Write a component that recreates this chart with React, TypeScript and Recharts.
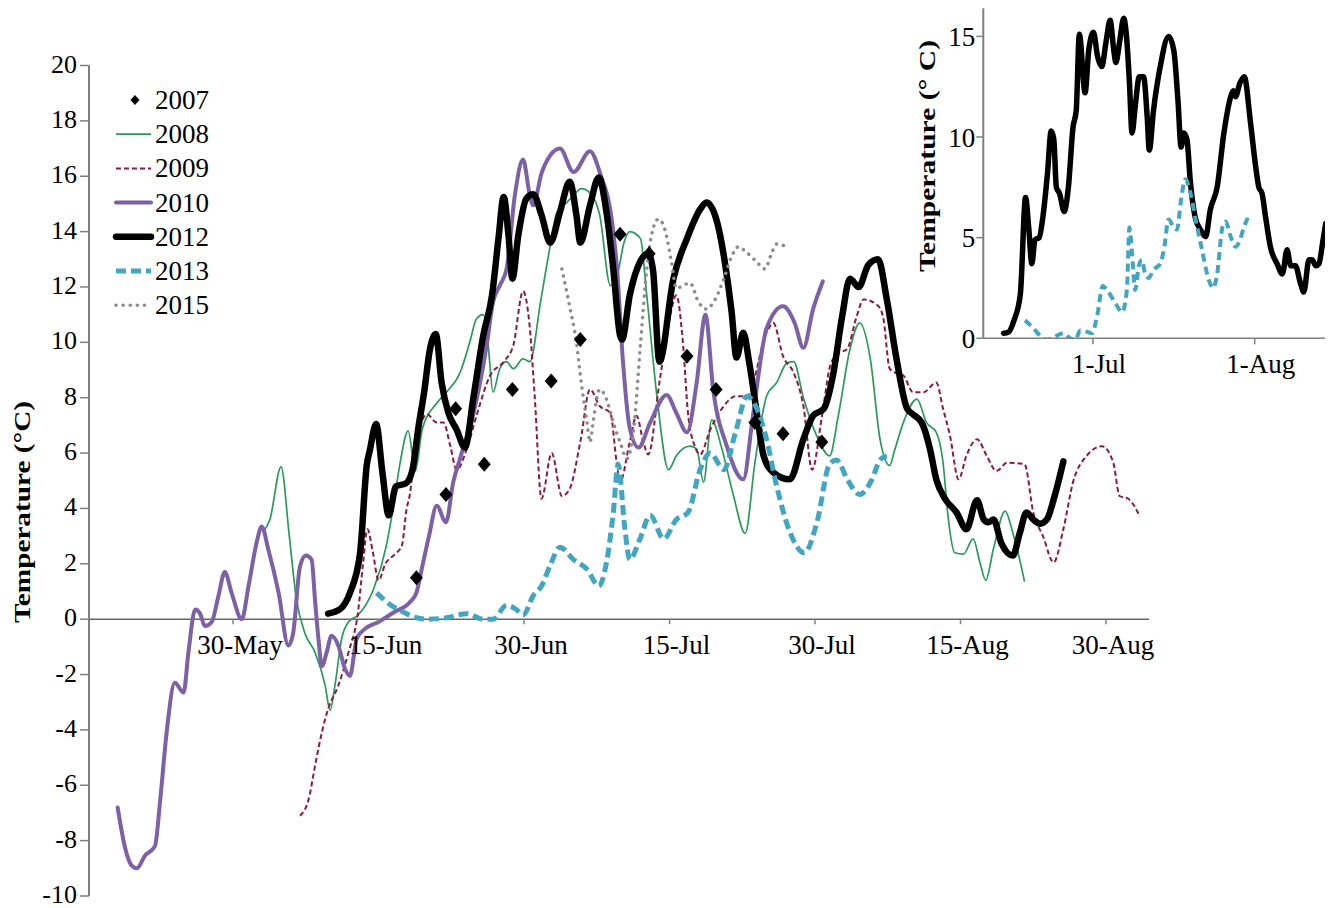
import React from "react";
import {
  ComposedChart,
  LineChart,
  Line,
  Scatter,
  XAxis,
  YAxis,
  ReferenceLine,
} from "recharts";

const FONT = '"Liberation Serif", "Times New Roman", serif';
const AXIS = "#7f7f7f";

// main chart: x = days after 30 May (ticks every 15 days), y = temperature
const mainTicks = [0, 15, 30, 45, 60, 75, 90];
const mainTickLabels = ["30-May", "15-Jun", "30-Jun", "15-Jul", "30-Jul", "15-Aug", "30-Aug"];
const tempTicks = [-10, -8, -6, -4, -2, 0, 2, 4, 6, 8, 10, 12, 14, 16, 18, 20];

const t2007: [number, number][] = [
  [18.9, 1.5], [21.95, 4.5], [22.95, 7.6], [25.9, 5.6], [28.8, 8.3], [32.8, 8.6], [35.8, 10.1],
  [39.9, 13.9], [42.9, 13.2], [46.8, 9.5], [49.8, 8.3], [53.8, 7.1], [56.7, 6.7], [60.7, 6.4],
];

const t2008: [number, number][] = [
  [3.1, 3.15], [3.8, 3.6], [4.95, 5.5], [5.8, 3.0], [6.5, 0.8], [7.4, -0.5], [8.45, -1.2], [9.5, -2.4],
  [10.0, -3.3], [10.5, -2.4], [11.2, -0.7], [11.9, -0.1], [12.9, 0.15], [14.5, 1.1], [15.8, 2.65],
  [16.5, 4.0], [17.2, 5.6], [18.05, 6.8], [18.8, 5.35], [19.5, 6.85], [21.0, 7.8], [22.0, 8.2],
  [23.4, 8.9], [24.4, 10.0], [25.1, 10.85], [25.8, 11.0], [26.3, 9.9], [26.8, 8.2], [27.5, 9.05],
  [28.2, 9.3], [28.9, 9.05], [29.9, 9.4], [30.6, 9.3], [31.7, 11.45], [32.5, 13.1], [33.4, 14.7],
  [34.4, 15.05], [35.1, 15.3], [35.9, 15.55], [36.8, 15.4], [37.8, 14.6], [38.9, 12.05], [39.6, 12.4],
  [40.3, 13.6], [40.9, 14.0], [42.0, 13.75], [42.65, 11.7], [43.7, 8.05], [44.9, 5.4], [45.7, 5.9],
  [47.1, 6.25], [47.8, 6.15], [48.5, 4.95], [49.35, 7.2], [50.4, 6.15], [51.6, 4.45], [52.8, 3.1],
  [53.8, 5.65], [55.0, 8.05], [56.05, 8.55], [57.1, 9.25], [57.8, 9.3], [58.8, 8.0], [60.2, 6.6],
  [61.5, 5.9], [62.4, 7.35], [63.6, 9.75], [64.6, 10.7], [65.7, 9.4], [66.7, 6.5], [67.7, 5.55],
  [68.2, 6.1], [69.1, 7.1], [70.5, 7.95], [71.5, 7.1], [72.5, 6.75], [73.2, 5.65], [73.7, 3.75],
  [74.4, 2.4], [75.3, 2.35], [76.3, 2.9], [77.0, 2.05], [77.6, 1.4], [78.4, 2.55], [79.6, 3.9],
  [80.4, 3.1], [81.1, 2.15], [81.6, 1.35],
];

const t2009: [number, number][] = [
  [6.9, -7.1], [7.8, -6.5], [8.45, -5.3], [9.15, -4.1], [9.8, -3.25], [10.85, -2.4], [11.9, -1.2],
  [12.9, 0.3], [13.4, 2.0], [13.85, 3.25], [14.4, 2.45], [15.0, 1.4], [15.7, 2.0], [16.7, 2.35],
  [17.4, 2.65], [17.9, 4.0], [18.2, 4.45], [18.8, 6.2], [20.0, 7.4], [21.0, 7.1], [21.7, 7.1],
  [22.4, 6.25], [23.05, 5.4], [24.1, 6.15], [25.1, 7.35], [26.5, 8.8], [27.9, 9.3], [28.9, 9.9],
  [29.9, 11.85], [30.6, 10.5], [31.1, 8.05], [31.8, 4.35], [32.85, 6.0], [33.9, 4.45], [34.7, 4.7],
  [35.8, 6.4], [36.8, 8.3], [37.8, 7.7], [38.9, 7.45], [39.55, 5.65], [39.9, 4.95], [40.9, 6.4],
  [41.6, 7.35], [42.3, 6.4], [42.8, 5.95], [44.0, 8.65], [45.05, 10.95], [45.7, 11.7], [46.4, 9.9],
  [46.9, 7.45], [47.6, 6.25], [48.15, 5.95], [49.2, 6.85], [50.6, 7.7], [51.8, 8.05], [53.0, 8.05],
  [55.0, 10.35], [55.7, 10.7], [56.7, 9.5], [57.8, 8.9], [58.8, 7.7], [59.7, 5.4], [60.7, 7.3],
  [61.6, 9.2], [62.4, 9.6], [63.3, 9.75], [64.3, 10.95], [65.0, 11.55], [66.4, 11.35], [67.0, 10.95],
  [67.7, 9.05], [68.3, 8.9], [69.1, 8.8], [70.1, 8.2], [71.2, 8.2], [72.5, 8.55], [73.2, 7.6],
  [73.9, 6.65], [74.8, 5.05], [75.6, 5.9], [76.7, 6.5], [77.7, 5.9], [78.7, 5.35], [79.8, 5.65],
  [81.6, 5.6], [82.5, 3.85], [83.5, 3.0], [84.6, 2.05], [85.6, 3.25], [86.6, 4.95], [88.0, 5.9],
  [89.6, 6.25], [90.75, 5.65], [91.4, 4.45], [92.3, 4.35], [93.5, 3.7],
];

const t2010: [number, number][] = [
  [-11.9, -6.8], [-11.1, -8.3], [-10.45, -8.9], [-9.9, -9.0], [-9.1, -8.55], [-8.05, -8.2], [-7.5, -6.5],
  [-6.85, -4.1], [-6.0, -2.3], [-5.1, -2.65], [-4.6, -1.2], [-3.9, 0.35], [-3.4, 0.2], [-2.9, -0.25],
  [-2.2, -0.1], [-1.5, 0.85], [-0.85, 1.7], [-0.15, 0.95], [0.9, 0.0], [1.6, 1.2], [2.45, 2.8],
  [2.95, 3.35], [3.65, 2.5], [4.7, 0.95], [5.7, -0.95], [6.2, -0.5], [6.9, 1.9], [7.5, 2.3], [8.1, 2.15],
  [8.45, 0.7], [8.8, -0.7], [9.15, -1.7], [9.65, -1.2], [10.15, -0.6], [10.85, -0.95], [11.55, -1.8],
  [12.05, -2.05], [12.75, -0.7], [13.6, -0.35], [15.0, -0.1], [16.6, 0.25], [18.2, 0.6], [18.9, 0.95],
  [19.6, 2.05], [20.2, 3.0], [21.0, 4.1], [21.95, 3.5], [22.7, 4.95], [23.4, 5.8], [24.8, 7.45],
  [26.15, 9.9], [26.8, 11.45], [27.5, 12.05], [28.2, 12.65], [29.05, 15.3], [29.9, 16.6], [30.6, 15.3],
  [30.95, 14.95], [31.8, 16.1], [32.7, 16.75], [33.7, 17.0], [35.1, 16.15], [36.8, 16.9], [37.8, 16.15],
  [39.2, 14.0], [39.6, 12.6], [40.2, 9.3], [40.9, 6.9], [41.8, 6.2], [43.0, 7.1], [44.7, 8.1],
  [45.7, 7.45], [46.8, 6.75], [47.8, 8.55], [48.7, 11.0], [49.5, 8.3], [50.9, 6.25], [52.6, 5.05],
  [53.6, 7.35], [55.0, 10.5], [56.7, 11.3], [57.9, 10.7], [58.8, 9.8], [59.8, 11.2], [60.8, 12.2],
];

const t2012: [number, number][] = [
  [9.8, 0.2], [11.0, 0.35], [12.05, 0.95], [13.1, 2.4], [13.8, 5.6], [14.1, 6.1], [14.75, 7.05],
  [15.4, 5.3], [16.05, 3.75], [16.8, 4.8], [17.8, 4.9], [18.5, 5.4], [19.1, 6.9], [19.7, 8.2],
  [20.3, 9.75], [20.9, 10.3], [21.5, 8.55], [22.2, 7.45], [23.05, 6.85], [23.9, 6.2], [24.8, 8.05],
  [25.8, 10.25], [26.7, 11.7], [27.35, 13.7], [27.9, 15.25], [28.4, 13.85], [28.8, 12.3], [29.4, 13.85],
  [30.25, 15.2], [30.95, 15.35], [31.8, 14.6], [32.7, 13.6], [33.7, 14.7], [34.7, 15.8], [35.4, 14.6],
  [35.8, 13.6], [36.8, 14.95], [37.7, 15.95], [38.5, 14.7], [39.2, 12.65], [39.9, 10.25], [40.1, 10.1],
  [40.9, 11.7], [41.95, 12.9], [42.8, 13.2], [43.3, 12.6], [43.95, 9.3], [45.4, 12.3], [46.8, 13.75],
  [48.15, 14.8], [48.8, 15.05], [49.9, 14.35], [50.7, 12.9], [51.4, 11.1], [51.9, 9.45], [52.6, 10.35],
  [53.2, 9.3], [54.0, 7.45], [54.7, 5.9], [55.7, 5.3], [57.4, 5.05], [58.8, 6.5], [59.8, 7.35],
  [60.9, 7.6], [61.9, 8.9], [62.8, 10.95], [63.6, 12.3], [64.5, 12.0], [65.5, 12.8], [66.5, 13.0],
  [67.4, 11.55], [68.4, 9.4], [69.5, 7.6], [70.1, 7.4], [71.0, 7.1], [71.85, 6.15], [72.5, 5.05],
  [73.4, 4.35], [74.6, 3.85], [75.6, 3.25], [76.7, 4.3], [77.4, 3.6], [77.9, 3.5], [78.4, 3.6],
  [79.2, 2.75], [80.4, 2.3], [81.1, 3.1], [81.8, 3.85], [82.5, 3.6], [83.2, 3.45], [83.9, 3.6],
  [84.7, 4.45], [85.6, 5.7],
];

const t2013: [number, number][] = [
  [14.8, 0.95], [16.3, 0.5], [17.6, 0.25], [18.9, 0.05], [20.0, 0.0], [22.0, 0.05], [24.1, 0.2],
  [25.8, 0.0], [26.8, 0.0], [28.2, 0.5], [29.2, 0.35], [29.9, 0.15], [30.95, 0.85], [31.8, 1.2],
  [32.7, 1.95], [33.7, 2.6], [35.1, 2.15], [36.5, 1.8], [37.7, 1.2], [38.5, 2.05], [39.2, 3.85],
  [39.7, 5.6], [40.4, 3.25], [40.9, 2.15], [41.95, 2.9], [43.0, 3.75], [44.4, 2.9], [45.7, 3.6],
  [46.9, 3.85], [48.15, 5.4], [49.2, 6.0], [50.6, 5.4], [51.8, 6.75], [53.0, 8.05], [54.0, 7.6],
  [55.0, 6.5], [56.05, 4.8], [57.4, 3.15], [58.9, 2.4], [60.2, 3.5], [61.5, 5.6], [62.2, 5.75],
  [63.4, 5.0], [64.6, 4.5], [65.8, 5.0], [66.7, 5.75], [67.4, 5.9],
];

const t2015: [number, number][] = [
  [33.9, 12.65], [34.7, 11.3], [35.4, 10.0], [35.9, 8.55], [36.5, 7.1], [36.8, 6.4], [37.15, 7.2],
  [37.8, 8.3], [38.5, 7.95], [39.2, 7.1], [39.9, 6.4], [40.6, 5.8], [41.3, 6.85], [42.0, 9.9],
  [42.65, 12.65], [43.3, 14.1], [43.85, 14.45], [44.5, 14.1], [45.2, 12.9], [45.7, 11.95], [46.4, 12.05],
  [47.1, 12.15], [48.0, 11.45], [48.8, 11.2], [49.7, 11.55], [50.6, 12.3], [51.4, 13.1], [52.1, 13.45],
  [52.95, 13.25], [54.0, 12.9], [54.85, 12.65], [55.4, 13.1], [56.05, 13.55], [56.7, 13.5], [57.4, 13.45],
];

// inset: x = days relative to 1 July
const insetTicks = [0, 31];
const insetTickLabels = ["1-Jul", "1-Aug"];
const insetTempTicks = [0, 5, 10, 15];

const inset2012: [number, number][] = [
  [-17.1, 0.25], [-16.2, 0.3], [-15.1, 0.9], [-13.9, 2.2], [-12.9, 7.0], [-12.3, 5.5], [-11.7, 3.7],
  [-11.1, 4.9], [-10.3, 5.0], [-9.5, 6.2], [-8.7, 8.2], [-8.0, 10.3], [-7.5, 9.9], [-7.0, 7.5],
  [-6.4, 7.2], [-5.5, 6.3], [-4.7, 7.5], [-3.8, 10.5], [-3.2, 11.3], [-2.6, 15.1], [-1.5, 12.2],
  [-0.8, 14.3], [0.1, 15.2], [0.9, 14.0], [1.7, 13.5], [2.5, 14.7], [3.3, 15.8], [4.0, 14.3],
  [4.4, 13.7], [5.1, 14.7], [5.9, 15.9], [6.5, 14.8], [7.0, 12.7], [7.5, 10.2], [8.1, 11.5],
  [8.9, 13.0], [9.7, 13.0], [10.4, 11.0], [10.8, 9.35], [11.6, 11.3], [12.9, 13.5], [14.5, 15.0],
  [15.5, 14.3], [16.3, 11.8], [16.9, 9.5], [17.4, 10.2], [18.0, 9.9], [18.7, 7.7], [19.6, 6.0],
  [20.6, 5.4], [21.6, 5.05], [22.5, 6.4], [23.8, 7.5], [25.1, 10.2], [26.4, 12.0], [26.9, 12.3],
  [27.3, 12.0], [28.2, 12.7], [29.0, 13.0], [30.2, 10.7], [31.2, 8.5], [31.8, 7.5], [32.4, 7.2],
  [33.1, 6.0], [34.0, 4.55], [35.3, 3.7], [36.3, 3.2], [37.2, 4.4], [37.9, 3.6], [38.8, 3.6],
  [39.8, 2.7], [40.4, 2.3], [41.4, 3.9], [42.0, 3.9], [42.7, 3.6], [43.3, 3.7], [44.1, 4.9], [44.6, 5.7],
];

const inset2013: [number, number][] = [
  [-13.0, 0.9], [-11.4, 0.5], [-9.8, 0.05], [-8.8, -0.08], [-7.5, 0.05], [-5.6, 0.25], [-4.4, 0.0],
  [-3.4, -0.08], [-2.4, 0.4], [-1.2, 0.33], [-0.2, 0.25], [0.8, 1.1], [1.9, 2.6], [2.7, 2.4],
  [4.3, 1.75], [5.6, 1.3], [6.5, 2.4], [7.0, 5.5], [7.5, 4.2], [8.1, 2.4], [8.8, 3.6], [9.4, 3.9],
  [10.0, 3.2], [10.7, 3.0], [11.6, 3.4], [12.9, 3.7], [13.6, 4.4], [14.5, 5.9], [15.5, 5.5],
  [16.1, 5.4], [16.9, 6.9], [17.7, 7.9], [18.7, 7.2], [19.6, 6.0], [20.9, 4.4], [22.2, 2.9],
  [23.0, 2.5], [23.8, 3.2], [24.8, 5.5], [25.4, 5.8], [26.4, 5.05], [27.3, 4.55], [28.2, 4.9],
  [28.9, 5.5], [29.7, 6.0],
];

const pts = (a: [number, number][]) => a.map(([day, temp]) => ({ day, temp }));

const lineSeries = [
  { name: "2008", data: pts(t2008), color: "#2a9a5a", width: 1.7, dash: undefined, cap: "butt" },
  { name: "2009", data: pts(t2009), color: "#8b1a3d", width: 2, dash: "5 3", cap: "butt" },
  { name: "2010", data: pts(t2010), color: "#7d61a6", width: 4, dash: undefined, cap: "round" },
  { name: "2012", data: pts(t2012), color: "#000000", width: 6.5, dash: undefined, cap: "round" },
  { name: "2013", data: pts(t2013), color: "#42a6c1", width: 5, dash: "10 5", cap: "butt" },
  { name: "2015", data: pts(t2015), color: "#8c8c8c", width: 3.5, dash: "0.1 7", cap: "round" },
];

const MAIN_W = 1325;
const MAIN_H = 900;
const MAIN_MARGIN = { top: 57.5, right: 184, bottom: 11, left: 0 };
const MAIN_PLOT_H = MAIN_H - MAIN_MARGIN.top - MAIN_MARGIN.bottom - 1;
const ZERO_Y = MAIN_MARGIN.top + MAIN_PLOT_H * (20 / 30);

const INSET_W = 453;
const INSET_H = 400;
const INSET_MARGIN = { top: 8.2, right: 0, bottom: 21.7, left: 0 };
const INSET_AXIS_Y = INSET_H - INSET_MARGIN.bottom - 40;

const MainTick = ({ x, payload }: any) => (
  <g>
    <line x1={x} x2={x} y1={ZERO_Y} y2={ZERO_Y + 5} stroke={AXIS} strokeWidth={1.5} />
    <text x={x + 7} y={ZERO_Y + 35} textAnchor="middle" fontFamily={FONT} fontSize={27} fill="#000">
      {mainTickLabels[mainTicks.indexOf(payload.value)]}
    </text>
  </g>
);

const TempTick = ({ x, y, payload }: any) => (
  <text x={x} y={y + 7} textAnchor="end" fontFamily={FONT} fontSize={26} fill="#000">
    {payload.value}
  </text>
);

const InsetTick = ({ x, payload }: any) => (
  <text x={x + 6} y={INSET_AXIS_Y + 35} textAnchor="middle" fontFamily={FONT} fontSize={27} fill="#000">
    {insetTickLabels[insetTicks.indexOf(payload.value)]}
  </text>
);

const Diamond = ({ cx, cy }: any) => (
  <polygon points={`${cx},${cy - 7.5} ${cx + 6.5},${cy} ${cx},${cy + 7.5} ${cx - 6.5},${cy}`} fill="#000" />
);

const MainYTitle = () => (
  <text
    x={14}
    y={504}
    transform="rotate(-90 14 504)"
    textAnchor="middle"
    dominantBaseline="central"
    fontFamily={FONT}
    fontWeight="bold"
    fontSize={24}
    textLength={222}
    lengthAdjust="spacingAndGlyphs"
    fill="#000"
  >
    Temperature (°C)
  </text>
);

const InsetYTitle = () => (
  <text
    x={47}
    y={156}
    transform="rotate(-90 47 156)"
    textAnchor="middle"
    dominantBaseline="central"
    fontFamily={FONT}
    fontWeight="bold"
    fontSize={23}
    textLength={232}
    lengthAdjust="spacingAndGlyphs"
    fill="#000"
  >
    Temperature (° C)
  </text>
);

const LegendBox = () => (
  <svg width={140} height={250} style={{ position: "absolute", left: 92, top: 72 }}>
    <polygon points="35,15 39.5,20 35,25 30.5,20" fill="#000" />
    <text x={55} y={29} fontFamily={FONT} fontSize={27} fill="#000">2007</text>
    {lineSeries.map((s, i) => {
      const cy = 20 + (i + 1) * 34.2;
      return (
        <g key={s.name}>
          <line
            x1={16}
            x2={51}
            y1={cy}
            y2={cy}
            stroke={s.color}
            strokeWidth={s.width}
            strokeDasharray={s.dash}
            strokeLinecap={s.cap as any}
          />
          <text x={55} y={cy + 9} fontFamily={FONT} fontSize={27} fill="#000">
            {s.name}
          </text>
        </g>
      );
    })}
  </svg>
);

export default function App() {
  return (
    <div style={{ position: "relative", width: MAIN_W, height: MAIN_H }}>
      <ComposedChart width={MAIN_W} height={MAIN_H} margin={MAIN_MARGIN}>
        <XAxis
          type="number"
          dataKey="day"
          domain={[-14.85, 94.43]}
          allowDataOverflow
          ticks={mainTicks}
          interval={0}
          axisLine={false}
          tickLine={false}
          height={1}
          tick={<MainTick />}
        />
        <YAxis
          type="number"
          domain={[-10, 20]}
          ticks={tempTicks}
          interval={0}
          width={81}
          tickSize={9}
          tickMargin={3}
          stroke={AXIS}
          axisLine={{ stroke: AXIS, strokeWidth: 2 }}
          tickLine={{ stroke: AXIS, strokeWidth: 1.5 }}
          tick={<TempTick />}
          label={<MainYTitle />}
        />
        <ReferenceLine y={0} stroke="#666" strokeWidth={1.5} />
        {lineSeries.map((s) => (
          <Line
            key={s.name}
            data={s.data}
            dataKey="temp"
            name={s.name}
            type="monotone"
            stroke={s.color}
            strokeWidth={s.width}
            strokeDasharray={s.dash}
            strokeLinecap={s.cap as any}
            strokeLinejoin="round"
            dot={false}
            activeDot={false}
            isAnimationActive={false}
          />
        ))}
        <Scatter data={pts(t2007)} dataKey="temp" name="2007" shape={<Diamond />} isAnimationActive={false} />
      </ComposedChart>

      <LegendBox />

      <div style={{ position: "absolute", left: 872, top: -8 }}>
        <LineChart width={INSET_W} height={INSET_H} margin={INSET_MARGIN}>
          <XAxis
            type="number"
            dataKey="day"
            domain={[-21, 46]}
            allowDataOverflow
            ticks={insetTicks}
            interval={0}
            height={40}
            tickSize={6}
            stroke={AXIS}
            axisLine={{ stroke: AXIS, strokeWidth: 1.5 }}
            tickLine={{ stroke: AXIS, strokeWidth: 1.5 }}
            tick={<InsetTick />}
          />
          <YAxis
            type="number"
            domain={[0, 16.4]}
            allowDataOverflow
            ticks={insetTempTicks}
            interval={0}
            width={103.3}
            tickSize={7}
            tickMargin={1}
            stroke={AXIS}
            axisLine={{ stroke: AXIS, strokeWidth: 2 }}
            tickLine={{ stroke: AXIS, strokeWidth: 1.5 }}
            tick={{ fontSize: 27, fontFamily: FONT, fill: "#000" }}
            label={<InsetYTitle />}
          />
          <Line
            data={pts(inset2012)}
            dataKey="temp"
            type="monotone"
            stroke="#000"
            strokeWidth={5.5}
            strokeLinecap="round"
            strokeLinejoin="round"
            dot={false}
            activeDot={false}
            isAnimationActive={false}
          />
          <Line
            data={pts(inset2013)}
            dataKey="temp"
            type="monotone"
            stroke="#42a6c1"
            strokeWidth={4}
            strokeDasharray="8 5"
            dot={false}
            activeDot={false}
            isAnimationActive={false}
          />
        </LineChart>
      </div>
    </div>
  );
}
